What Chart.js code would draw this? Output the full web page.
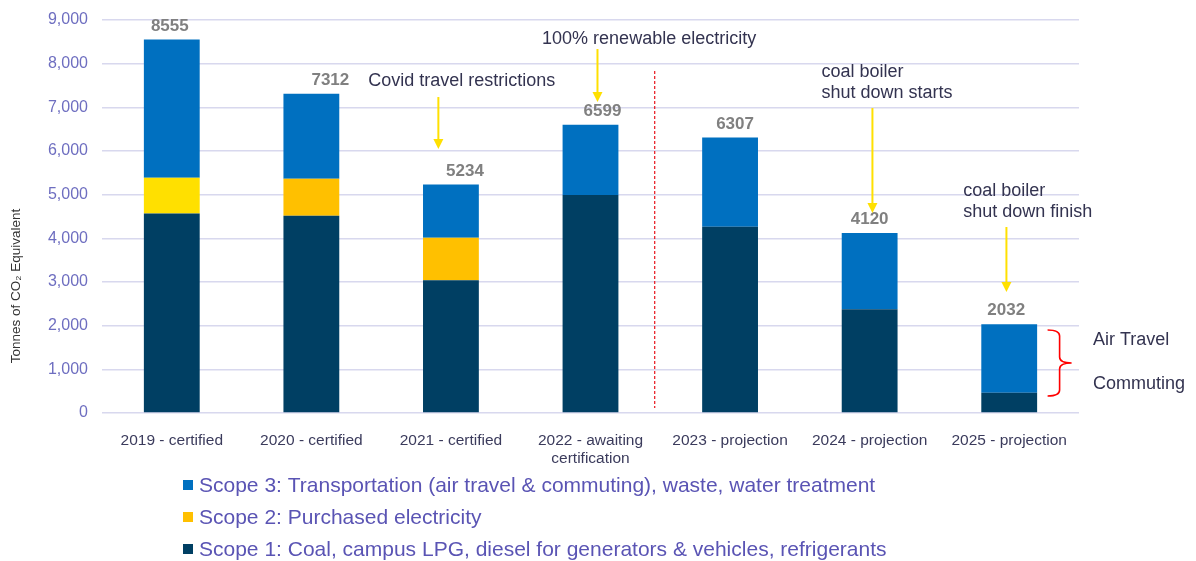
<!DOCTYPE html>
<html>
<head>
<meta charset="utf-8">
<script src="https://cdn.jsdelivr.net/npm/chart.js@4"></script>
<style>
  body { margin: 0; background: #fff; }
</style>
</head>
<body>
<canvas id="co2" width="1196" height="561" style="width:1196px;height:561px"></canvas>
<script>
var FONT = '"Liberation Sans", Arial, sans-serif';

// data
var years = ['2019 - certified', '2020 - certified', '2021 - certified',
  ['2022 - awaiting', 'certification'], '2023 - projection', '2024 - projection', '2025 - projection'];
var scope1 = [4570, 4520, 3040, 4995, 4265, 2375, 465];
var scope2 = [815, 845, 975, 0, 0, 0, 0];
var scope3 = [3170, 1947, 1219, 1604, 2042, 1745, 1567];
var totals = [8555, 7312, 5234, 6599, 6307, 4120, 2032];
var yTicks = [0, 1000, 2000, 3000, 4000, 5000, 6000, 7000, 8000, 9000];

// label placement tweaks (px) for the totals
var totalDx = [-2, 19, 14, 12, 5, 0, -3];

// annotations, in category index / value units
var notes = [
  { lines: ['Covid travel restrictions'], x: 2.077, y: 7600, align: 'center' },
  { lines: ['100% renewable electricity'], x: 3.42, y: 8565, align: 'center' },
  { lines: ['coal boiler', 'shut down starts'], x: 4.655, y: 7816, align: 'left' },
  { lines: ['coal boiler', 'shut down finish'], x: 5.67, y: 5090, align: 'left', clip: 1094 },
  { lines: ['Air Travel'], x: 6.60, y: 1672, align: 'left' },
  { lines: ['Commuting'], x: 6.60, y: 664, align: 'left' }
];
var arrows = [
  { x: 1.91, from: 7236, to: 6045 },
  { x: 3.05, from: 8335, to: 7122 },
  { x: 5.02, from: 6984, to: 4580 },
  { x: 5.98, from: 4259, to: 2771 }
];
var divider = { x: 3.46, from: 7831, to: 114 };
var brace = { x0: 6.275, x1: 6.447, top: 1900, mid: 1145, bottom: 390 };

var extras = {
  id: 'extras',
  afterDatasetsDraw: function(chart) {
    var c = chart.ctx, xs = chart.scales.x, ys = chart.scales.y;
    var px = function(i) { return xs.getPixelForValue(i); };
    var py = function(v) { return ys.getPixelForValue(v); };
    c.save();

    // totals
    c.font = 'bold 17px ' + FONT;
    c.fillStyle = '#808080';
    c.textAlign = 'center';
    c.textBaseline = 'bottom';
    totals.forEach(function(t, i) {
      var top = py(scope1[i] + scope2[i] + scope3[i]);
      c.fillText(String(t), px(i) + totalDx[i], top - 5);
    });

    // dashed divider
    c.strokeStyle = '#E8141B';
    c.lineWidth = 1.2;
    c.setLineDash([3, 2]);
    c.beginPath();
    c.moveTo(px(divider.x), py(divider.from));
    c.lineTo(px(divider.x), py(divider.to));
    c.stroke();
    c.setLineDash([]);

    // yellow arrows
    c.strokeStyle = '#FFE000';
    c.fillStyle = '#FFE000';
    c.lineWidth = 2;
    arrows.forEach(function(a) {
      var x = px(a.x), y0 = py(a.from), y1 = py(a.to);
      c.beginPath();
      c.moveTo(x, y0);
      c.lineTo(x, y1 - 8);
      c.stroke();
      c.beginPath();
      c.moveTo(x - 5, y1 - 10);
      c.lineTo(x + 5, y1 - 10);
      c.lineTo(x, y1);
      c.closePath();
      c.fill();
    });

    // text notes
    c.font = '18px ' + FONT;
    c.fillStyle = '#333350';
    c.textBaseline = 'middle';
    notes.forEach(function(n) {
      c.save();
      if (n.clip) {
        c.beginPath();
        c.rect(0, 0, n.clip, chart.height);
        c.clip();
      }
      c.textAlign = n.align;
      n.lines.forEach(function(l, k) {
        c.fillText(l, px(n.x), py(n.y) + k * 21);
      });
      c.restore();
    });

    // red brace
    var bx0 = px(brace.x0), bx1 = px(brace.x1), bm = (bx0 + bx1) / 2;
    var bt = py(brace.top), bc = py(brace.mid), bb = py(brace.bottom);
    c.strokeStyle = '#FF0000';
    c.lineWidth = 1.6;
    c.beginPath();
    c.moveTo(bx0, bt);
    c.quadraticCurveTo(bm, bt, bm, bt + 6);
    c.lineTo(bm, bc - 6);
    c.quadraticCurveTo(bm, bc, bx1, bc);
    c.quadraticCurveTo(bm, bc, bm, bc + 6);
    c.lineTo(bm, bb - 6);
    c.quadraticCurveTo(bm, bb, bx0, bb);
    c.stroke();

    // y title
    c.save();
    c.translate(16, 286);
    c.rotate(-Math.PI / 2);
    c.font = '13.5px ' + FONT;
    c.fillStyle = '#333333';
    c.textAlign = 'center';
    c.fillText('Tonnes of CO\u2082 Equivalent', 0, 0);
    c.restore();

    // legend, top to bottom = scope 3, 2, 1
    var order = chart.data.datasets.slice().reverse();
    c.font = '21px ' + FONT;
    c.textAlign = 'left';
    c.textBaseline = 'middle';
    order.forEach(function(ds, k) {
      var y = 485 + k * 32;
      c.fillStyle = ds.legendColor;
      c.fillRect(183, y - 5, 10, 10);
      c.fillStyle = '#5A54B4';
      c.fillText(ds.label, 199, y + 1);
    });

    c.restore();
  }
};

new Chart(document.getElementById('co2'), {
  type: 'bar',
  data: {
    labels: years,
    datasets: [{
      label: 'Scope 1: Coal, campus LPG, diesel for generators & vehicles, refrigerants',
      data: scope1,
      backgroundColor: '#003F63',
      legendColor: '#003F63'
    }, {
      label: 'Scope 2: Purchased electricity',
      data: scope2,
      backgroundColor: ['#FFE000', '#FFC000', '#FFC000', '#FFC000', '#FFC000', '#FFC000', '#FFC000'],
      legendColor: '#FFC000'
    }, {
      label: 'Scope 3: Transportation (air travel & commuting), waste, water treatment',
      data: scope3,
      backgroundColor: '#0070C0',
      legendColor: '#0070C0'
    }]
  },
  options: {
    responsive: false,
    animation: false,
    barPercentage: 0.4,
    categoryPercentage: 1.0,
    layout: { padding: { top: 20, right: 117, left: 0, bottom: 0 } },
    plugins: { legend: { display: false }, tooltip: { enabled: false } },
    scales: {
      x: {
        stacked: true,
        grid: { display: false },
        border: { display: false },
        ticks: { color: '#3B3B5C', font: { family: FONT, size: 15.5 }, padding: 10, maxRotation: 0 },
        afterFit: function(s) { s.height = 148; }
      },
      y: {
        stacked: true,
        min: 0,
        max: 9000,
        afterBuildTicks: function(s) { s.ticks = yTicks.map(function(v) { return { value: v }; }); },
        grid: { color: '#D8D8EE', lineWidth: 1.5, drawTicks: false },
        border: { display: false },
        ticks: { color: '#6E6EC0', font: { family: FONT, size: 16 }, padding: 14 },
        afterFit: function(s) { s.width = 102; s.paddingTop = 0; s.paddingBottom = 0; }
      }
    }
  },
  plugins: [extras]
});
</script>
</body>
</html>
